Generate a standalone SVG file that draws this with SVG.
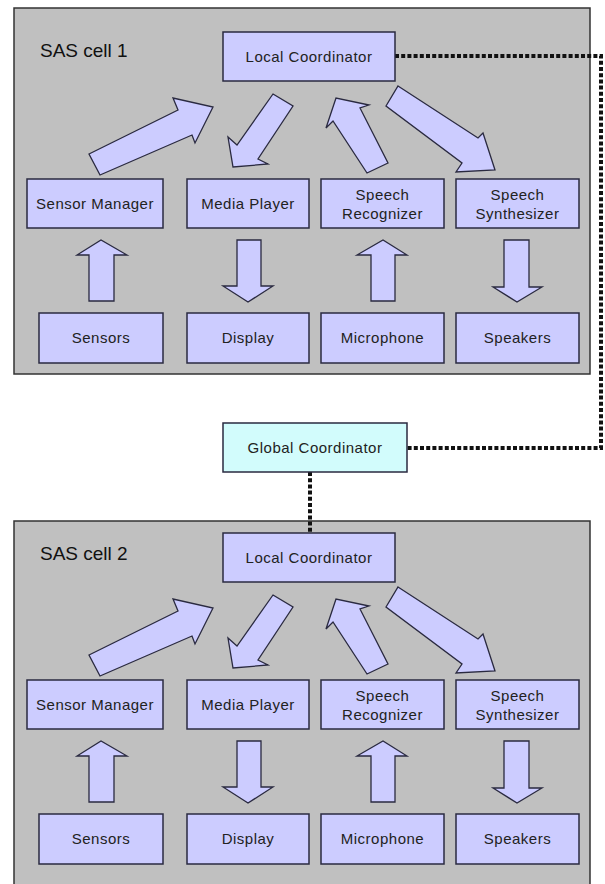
<svg xmlns="http://www.w3.org/2000/svg" xmlns:xlink="http://www.w3.org/1999/xlink" width="605" height="884" viewBox="0 0 605 884">
<style>
.cell{fill:#c0c0c0;stroke:#333;stroke-width:1.5}
.box{fill:#ccccff;stroke:#2a2a40;stroke-width:1.5}
.gbox{fill:#d2fcfc;stroke:#2a2a40;stroke-width:1.5}
.arr{fill:#ccccff;stroke:#2a2a40;stroke-width:1.3;stroke-linejoin:miter}
.lbl{font-family:"Liberation Sans",Arial,sans-serif;font-size:15px;letter-spacing:0.5px;fill:#222;text-anchor:middle}
.ttl{font-family:"Liberation Sans",Arial,sans-serif;font-size:19px;fill:#111}
.dot{fill:none;stroke:#111;stroke-width:4;stroke-dasharray:4 2.2}
</style>
<defs>
<g id="arrows">
<polygon class="arr" points="89,154 178,110 173,98 213,107 195,143 192,135 100,175"/>
<polygon class="arr" points="273,94 293,106 258,159 268,164 233,167 228,137 237,145"/>
<polygon class="arr" points="367,173 333,121 326,128 336,98 369,105 360,108 388,163"/>
<polygon class="arr" points="398,86 478,138 483,133 495,170 456,172 462,163 386,106"/>
<polygon class="arr" points="89,301 89,255 77,255 101,240 127,255 114,255 114,301"/>
<polygon class="arr" points="237,240 261,240 261,286 273,286 248,302 223,286 237,286"/>
<polygon class="arr" points="371,301 371,255 357,255 383,240 407,255 395,255 395,301"/>
<polygon class="arr" points="504,240 529,240 529,287 542,287 517,302 493,287 504,287"/>
</g>
</defs>

<g id="cell1">
<rect class="cell" x="14" y="8" width="576" height="366"/>
<text class="ttl" x="40" y="57">SAS cell 1</text>
</g>
<g id="cell2">
<rect class="cell" x="14" y="521" width="576" height="380"/>
<text class="ttl" x="40" y="560">SAS cell 2</text>
</g>

<g id="connectors">
<use xlink:href="#arrows"/>
<use xlink:href="#arrows" transform="translate(0,501)"/>
<polyline class="dot" points="395,56 601,56 601,448 407,448"/>
<line class="dot" x1="310" y1="472" x2="310" y2="533"/>
</g>

<g id="c1-local">
<rect class="box" x="223" y="32" width="172" height="49"/>
<text class="lbl" x="309" y="62">Local Coordinator</text>
</g>
<g id="c1-sensor-manager">
<rect class="box" x="27" y="179" width="136" height="49"/>
<text class="lbl" x="95" y="209">Sensor Manager</text>
</g>
<g id="c1-media-player">
<rect class="box" x="187" y="179" width="122" height="49"/>
<text class="lbl" x="248" y="209">Media Player</text>
</g>
<g id="c1-speech-recognizer">
<rect class="box" x="321" y="179" width="123" height="49"/>
<text class="lbl" x="382.5" y="200">Speech</text>
<text class="lbl" x="382.5" y="219">Recognizer</text>
</g>
<g id="c1-speech-synthesizer">
<rect class="box" x="456" y="179" width="123" height="49"/>
<text class="lbl" x="517.5" y="200">Speech</text>
<text class="lbl" x="517.5" y="219">Synthesizer</text>
</g>
<g id="c1-sensors">
<rect class="box" x="39" y="313" width="124" height="50"/>
<text class="lbl" x="101" y="343">Sensors</text>
</g>
<g id="c1-display">
<rect class="box" x="187" y="313" width="122" height="50"/>
<text class="lbl" x="248" y="343">Display</text>
</g>
<g id="c1-microphone">
<rect class="box" x="321" y="313" width="123" height="50"/>
<text class="lbl" x="382.5" y="343">Microphone</text>
</g>
<g id="c1-speakers">
<rect class="box" x="456" y="313" width="123" height="50"/>
<text class="lbl" x="517.5" y="343">Speakers</text>
</g>

<g id="global-coordinator">
<rect class="gbox" x="223" y="423" width="184" height="49"/>
<text class="lbl" x="315" y="453">Global Coordinator</text>
</g>

<g id="c2-local">
<rect class="box" x="223" y="533" width="172" height="49"/>
<text class="lbl" x="309" y="563">Local Coordinator</text>
</g>
<g id="c2-sensor-manager">
<rect class="box" x="27" y="680" width="136" height="49"/>
<text class="lbl" x="95" y="710">Sensor Manager</text>
</g>
<g id="c2-media-player">
<rect class="box" x="187" y="680" width="122" height="49"/>
<text class="lbl" x="248" y="710">Media Player</text>
</g>
<g id="c2-speech-recognizer">
<rect class="box" x="321" y="680" width="123" height="49"/>
<text class="lbl" x="382.5" y="701">Speech</text>
<text class="lbl" x="382.5" y="720">Recognizer</text>
</g>
<g id="c2-speech-synthesizer">
<rect class="box" x="456" y="680" width="123" height="49"/>
<text class="lbl" x="517.5" y="701">Speech</text>
<text class="lbl" x="517.5" y="720">Synthesizer</text>
</g>
<g id="c2-sensors">
<rect class="box" x="39" y="814" width="124" height="50"/>
<text class="lbl" x="101" y="844">Sensors</text>
</g>
<g id="c2-display">
<rect class="box" x="187" y="814" width="122" height="50"/>
<text class="lbl" x="248" y="844">Display</text>
</g>
<g id="c2-microphone">
<rect class="box" x="321" y="814" width="123" height="50"/>
<text class="lbl" x="382.5" y="844">Microphone</text>
</g>
<g id="c2-speakers">
<rect class="box" x="456" y="814" width="123" height="50"/>
<text class="lbl" x="517.5" y="844">Speakers</text>
</g>
</svg>
